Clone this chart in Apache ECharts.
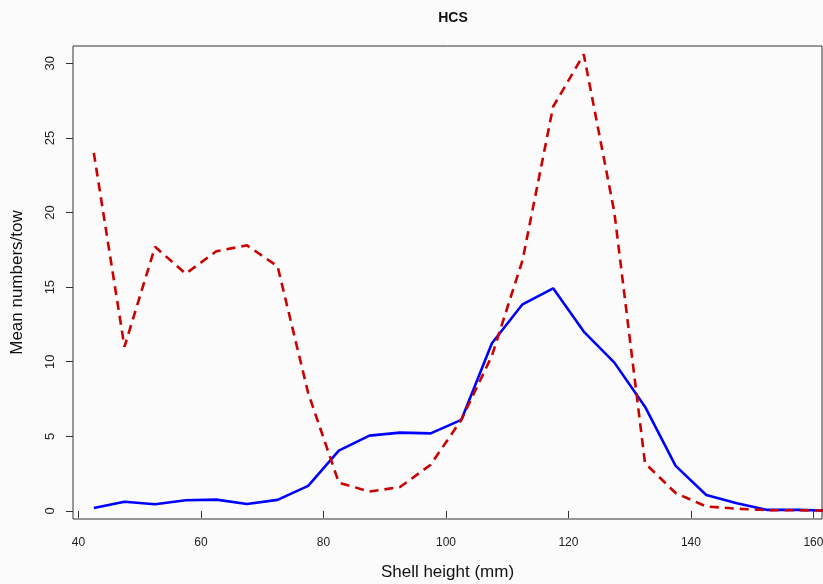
<!DOCTYPE html>
<html>
<head>
<meta charset="utf-8">
<script src="https://cdn.jsdelivr.net/npm/echarts@6/dist/echarts.min.js"></script>
<style>
  html, body { margin: 0; padding: 0; background: #fbfbfb; }
  #chart { width: 823px; height: 584px; }
</style>
</head>
<body>
<div id="chart"></div>
<script>
// shell height bins (mm), midpoints
const shellHeight = [42.5, 47.5, 52.5, 57.5, 62.5, 67.5, 72.5, 77.5, 82.5, 87.5, 92.5, 97.5,
  102.5, 107.5, 112.5, 117.5, 122.5, 127.5, 132.5, 137.5, 142.5, 147.5, 152.5, 157.5, 162.5];

// solid blue series
const blueValues = [0.2, 0.62, 0.45, 0.72, 0.76, 0.47, 0.74, 1.68, 4.04, 5.05, 5.25, 5.2,
  6.1, 11.24, 13.85, 14.92, 12.02, 9.94, 6.99, 3.02, 1.07, 0.51, 0.07, 0.07, 0.02];

// dashed red series
const redValues = [24.0, 11.0, 17.7, 15.9, 17.4, 17.8, 16.4, 7.9, 1.9, 1.3, 1.6, 3.1,
  6.1, 10.4, 16.8, 27.1, 30.6, 20.0, 3.2, 1.2, 0.3, 0.15, 0.05, 0.05, 0.02];

const xTicks = [40, 60, 80, 100, 120, 140, 160];
const yTicks = [0, 5, 10, 15, 20, 25, 30];

const pairs = vals => shellHeight.map((x, i) => [x, vals[i]]);

const chart = echarts.init(document.getElementById('chart'));

chart.setOption({
  animation: false,
  backgroundColor: '#fbfbfb',
  textStyle: { fontFamily: 'Liberation Sans, Arial, sans-serif' },
  title: {
    text: 'HCS',
    left: 448,
    top: 6,
    textAlign: 'center',
    textStyle: { fontSize: 14, fontWeight: 'bold', color: '#111' }
  },
  grid: {
    left: 73,
    right: 1,
    top: 46,
    bottom: 65,
    outerBoundsMode: 'none',
    containLabel: false,
    show: true,
    borderColor: '#333',
    borderWidth: 1,
    backgroundColor: 'transparent'
  },
  xAxis: {
    type: 'value',
    min: 39.1,
    max: 161.4,
    name: 'Shell height (mm)',
    nameLocation: 'middle',
    nameGap: 45,
    nameTextStyle: { fontSize: 17, color: '#111' },
    axisLine: { show: false },
    axisTick: { show: true, customValues: xTicks, length: 7, lineStyle: { color: '#333' } },
    axisLabel: { customValues: xTicks, margin: 18, fontSize: 12, color: '#222' },
    splitLine: { show: false }
  },
  yAxis: {
    type: 'value',
    min: -0.54,
    max: 31.16,
    name: 'Mean numbers/tow',
    nameLocation: 'middle',
    nameGap: 47,
    nameTextStyle: { fontSize: 17, color: '#111' },
    axisLine: { show: false },
    axisTick: { show: true, customValues: yTicks, length: 7, lineStyle: { color: '#333' } },
    axisLabel: { customValues: yTicks, rotate: 90, margin: 16, fontSize: 13, color: '#222' },
    splitLine: { show: false }
  },
  series: [
    {
      name: 'solid',
      type: 'line',
      data: pairs(blueValues),
      symbol: 'none',
      lineStyle: { color: '#0000ff', width: 2.6 }
    },
    {
      name: 'dashed',
      type: 'line',
      data: pairs(redValues),
      symbol: 'none',
      lineStyle: { color: '#cd0000', width: 2.6, type: [9, 6] }
    }
  ]
});
</script>
</body>
</html>
